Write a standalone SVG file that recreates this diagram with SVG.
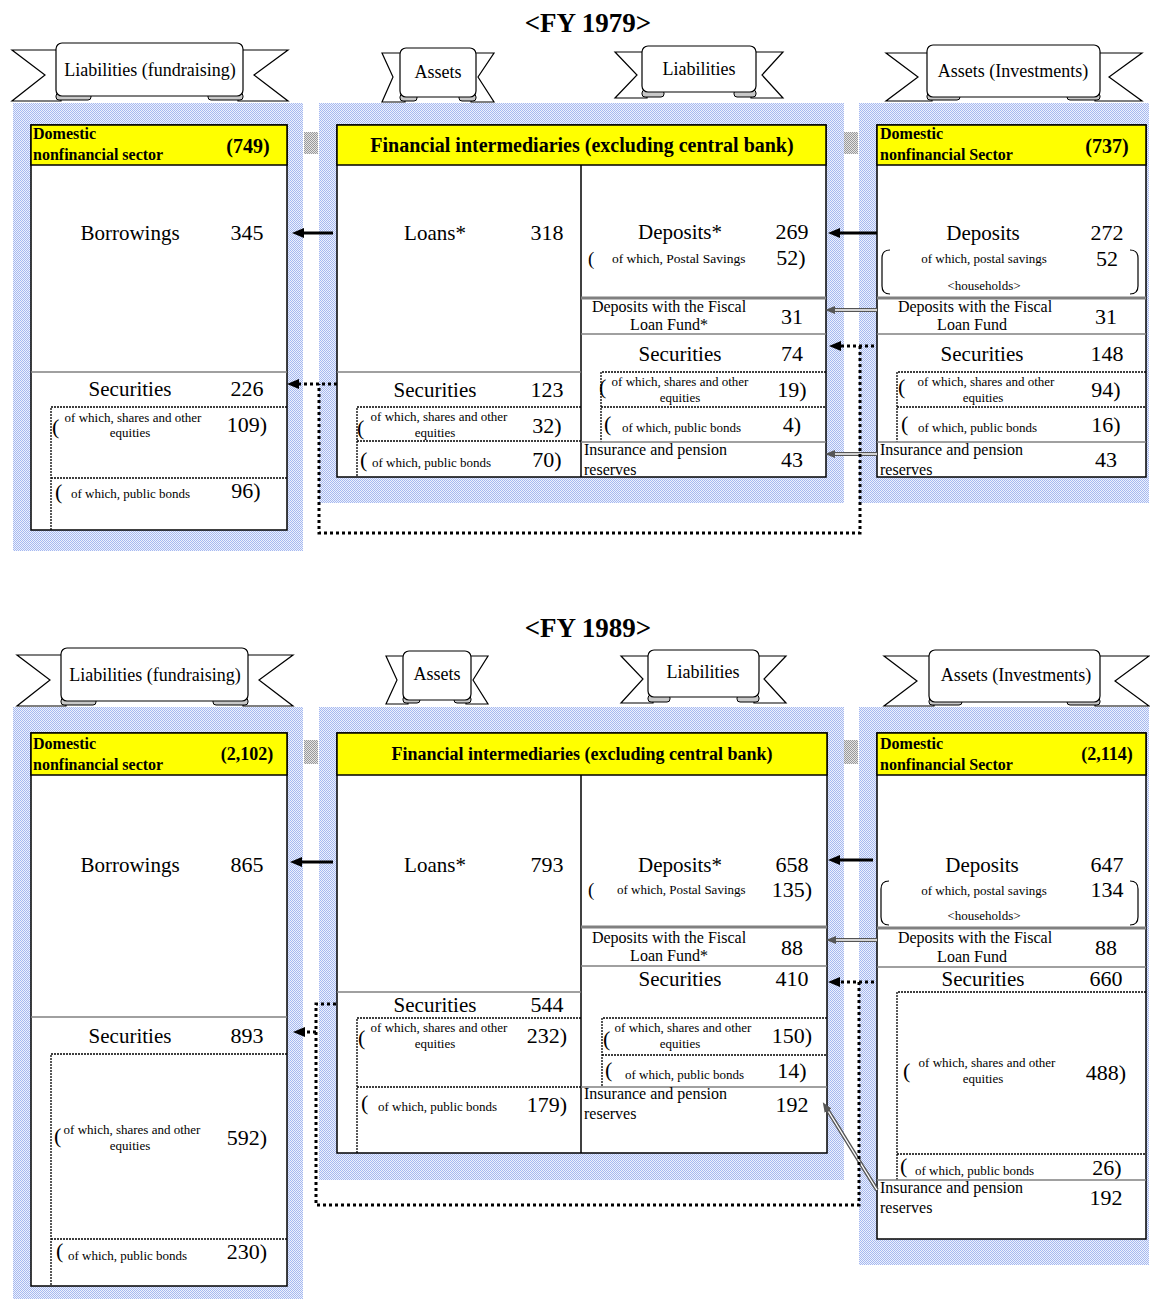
<svg xmlns="http://www.w3.org/2000/svg" width="1150" height="1299" viewBox="0 0 1150 1299">
<style>
text{font-family:"Liberation Serif","Times New Roman",serif;fill:#000}
.c{text-anchor:middle}
.L{font-size:21px}
.N{font-size:22px;text-anchor:middle}
.P{font-size:22px}
.S{font-size:13px}
.M{font-size:16px}
.B{font-size:18px;text-anchor:middle}
.H{font-weight:bold;font-size:16px}
.T{font-size:27px;font-weight:bold;text-anchor:middle}
.hatch{fill:url(#blue)}
.gblk{fill:url(#gray)}
.box{fill:#fff;stroke:#000;stroke-width:1.5}
.yel{fill:#ffff00;stroke:#000;stroke-width:1.5}
.vl{stroke:#000;stroke-width:1.5}
.gl{stroke:#808080;stroke-width:1.5}
.gt{stroke:#808080;stroke-width:3}
.dl{stroke:#000;stroke-width:1.3;stroke-dasharray:2 1;fill:none}
.br{stroke:#000;stroke-width:1.2;fill:none}
.wing{fill:#fff;stroke:#000;stroke-width:1.2}
.curl{fill:#c8c8c8;stroke:#000;stroke-width:1}
.bbox{fill:#fff;stroke:#000;stroke-width:1.2}
.arr{stroke:#000;stroke-width:3;fill:none;marker-end:url(#ah)}
.dot{stroke:#000;stroke-width:3;stroke-dasharray:3 3;fill:none}
.dota{stroke:#000;stroke-width:3;stroke-dasharray:3 3;fill:none;marker-end:url(#ah)}
.dbl{stroke:#555;stroke-width:4;fill:none;marker-end:url(#ag)}
.dbli{stroke:#fff;stroke-width:1.4;fill:none}
</style>
<defs>
<pattern id="blue" width="2" height="2" patternUnits="userSpaceOnUse">
<rect width="2" height="2" fill="#edf1fd"/>
<rect x="0" y="0" width="1" height="1" fill="#a6b9f0"/>
<rect x="1" y="1" width="1" height="1" fill="#a6b9f0"/>
</pattern>
<pattern id="gray" width="2" height="2" patternUnits="userSpaceOnUse">
<rect width="2" height="2" fill="#e4e4e4"/>
<rect x="0" y="0" width="1" height="1" fill="#999"/>
<rect x="1" y="1" width="1" height="1" fill="#999"/>
</pattern>
<marker id="ah" markerWidth="12" markerHeight="10" refX="3" refY="5" orient="auto" markerUnits="userSpaceOnUse">
<path d="M0,0 L12,5 L0,10 z" fill="#000"/>
</marker>
<marker id="ag" markerWidth="10" markerHeight="8" refX="2" refY="4" orient="auto" markerUnits="userSpaceOnUse">
<path d="M0,0 L10,4 L0,8 z" fill="#555"/>
</marker>
</defs>
<rect width="1150" height="1299" fill="#fff"/>

<!-- ================= FY 1979 ================= -->
<text class="T" x="588" y="32">&lt;FY 1979&gt;</text>

<g id="banner79-liab-fund">
<path class="wing" d="M61 50 L12 50 L45 75 L12 101 L61 101 Z"/>
<path class="wing" d="M238 50 L288 50 L254 75 L288 101 L238 101 Z"/>
<rect class="curl" x="56" y="93" width="35" height="7" rx="3"/>
<rect class="curl" x="208" y="93" width="35" height="7" rx="3"/>
<rect class="bbox" x="56" y="43" width="187" height="53" rx="6"/>
<text class="B" x="150" y="76">Liabilities (fundraising)</text>
</g>
<g id="banner79-assets">
<path class="wing" d="M405 53 L382 53 L393 77 L382 102 L405 102 Z"/>
<path class="wing" d="M471 53 L494 53 L478 77 L494 102 L471 102 Z"/>
<rect class="curl" x="400" y="94" width="17" height="7" rx="3"/>
<rect class="curl" x="459" y="94" width="17" height="7" rx="3"/>
<rect class="bbox" x="400" y="48" width="76" height="49" rx="6"/>
<text class="B" x="438" y="78">Assets</text>
</g>
<g id="banner79-liab">
<path class="wing" d="M647 52 L615 52 L637 75 L615 98 L647 98 Z"/>
<path class="wing" d="M751 52 L783 52 L762 75 L783 98 L751 98 Z"/>
<rect class="curl" x="642" y="90" width="22" height="7" rx="3"/>
<rect class="curl" x="734" y="90" width="22" height="7" rx="3"/>
<rect class="bbox" x="642" y="46" width="114" height="46" rx="6"/>
<text class="B" x="699" y="75">Liabilities</text>
</g>
<g id="banner79-assets-inv">
<path class="wing" d="M932 53 L886 53 L918 77 L886 101 L932 101 Z"/>
<path class="wing" d="M1095 53 L1142 53 L1109 77 L1142 101 L1095 101 Z"/>
<rect class="curl" x="927" y="93" width="33" height="7" rx="3"/>
<rect class="curl" x="1067" y="93" width="33" height="7" rx="3"/>
<rect class="bbox" x="927" y="45" width="173" height="52" rx="6"/>
<text class="B" x="1013" y="77">Assets (Investments)</text>
</g>

<g id="n79-left">
<rect class="hatch" x="13" y="103" width="290" height="448"/>
<rect class="box" x="31" y="125" width="256" height="405"/>
<rect class="yel" x="31" y="125" width="256" height="40"/>
<text class="H" x="33" y="139">Domestic</text>
<text class="H" x="33" y="160">nonfinancial sector</text>
<text class="c" x="248" y="153" style="font-weight:bold;font-size:20px">(749)</text>
<text class="L c" x="130" y="240">Borrowings</text>
<text class="N" x="247" y="240">345</text>
<line class="gl" x1="31" y1="372" x2="287" y2="372"/>
<text class="L c" x="130" y="396">Securities</text>
<text class="N" x="247" y="396">226</text>
<path class="dl" d="M287 407 H51 V530 M51 478 H287"/>
<text class="P" x="52" y="434">(</text>
<text class="S c" x="133" y="422">of which, shares and other</text>
<text class="S c" x="130" y="437">equities</text>
<text class="N" x="247" y="432">109)</text>
<text class="P" x="55" y="499">(</text>
<text class="S" x="71" y="498">of which, public bonds</text>
<text class="N" x="246" y="498">96)</text>
</g>

<g id="n79-mid">
<rect class="hatch" x="319" y="103" width="525" height="400"/>
<rect class="box" x="337" y="125" width="489" height="352"/>
<rect class="yel" x="337" y="125" width="489" height="40"/>
<text class="c" x="582" y="152" style="font-weight:bold;font-size:20px">Financial intermediaries (excluding central bank)</text>
<line class="vl" x1="581" y1="165" x2="581" y2="477"/>
<text class="L c" x="435" y="240">Loans*</text>
<text class="N" x="547" y="240">318</text>
<line class="gl" x1="337" y1="372" x2="581" y2="372"/>
<text class="L c" x="435" y="397">Securities</text>
<text class="N" x="547" y="397">123</text>
<path class="dl" d="M581 407 H357 V477 M357 441 H581"/>
<text class="P" x="357" y="435">(</text>
<text class="S c" x="439" y="421">of which, shares and other</text>
<text class="S c" x="435" y="437">equities</text>
<text class="N" x="547" y="433">32)</text>
<text class="P" x="360" y="467">(</text>
<text class="S" x="372" y="467">of which, public bonds</text>
<text class="N" x="547" y="467">70)</text>
<text class="L c" x="680" y="239">Deposits*</text>
<text class="N" x="792" y="239">269</text>
<text x="588" y="265" style="font-size:19px">(</text>
<text x="612" y="263" style="font-size:13.5px">of which, Postal Savings</text>
<text class="N" x="791" y="265">52)</text>
<line class="gt" x1="581" y1="298" x2="826" y2="298"/>
<text class="M c" x="669" y="312">Deposits with the Fiscal</text>
<text class="M c" x="669" y="330">Loan Fund*</text>
<text class="N" x="792" y="324">31</text>
<line class="gl" x1="581" y1="334" x2="826" y2="334"/>
<text class="L c" x="680" y="361">Securities</text>
<text class="N" x="792" y="361">74</text>
<path class="dl" d="M826 372 H601 V442 M601 407 H826"/>
<text class="P" x="599" y="394">(</text>
<text class="S c" x="680" y="386">of which, shares and other</text>
<text class="S c" x="680" y="402">equities</text>
<text class="N" x="792" y="397">19)</text>
<text class="P" x="604" y="431">(</text>
<text class="S" x="622" y="432">of which, public bonds</text>
<text class="N" x="792" y="432">4)</text>
<line class="gl" x1="581" y1="442" x2="826" y2="442"/>
<text class="M" x="584" y="455">Insurance and pension</text>
<text class="M" x="584" y="475">reserves</text>
<text class="N" x="792" y="467">43</text>
</g>

<g id="n79-right">
<rect class="hatch" x="859" y="103" width="290" height="400"/>
<rect class="box" x="877" y="125" width="269" height="352"/>
<rect class="yel" x="877" y="125" width="269" height="40"/>
<text class="H" x="880" y="139">Domestic</text>
<text class="H" x="880" y="160">nonfinancial Sector</text>
<text class="c" x="1107" y="153" style="font-weight:bold;font-size:20px">(737)</text>
<text class="L c" x="983" y="240">Deposits</text>
<text class="N" x="1107" y="240">272</text>
<path class="br" d="M890 250 Q882 250 882 258 V286 Q882 294 890 294 M1130 250 Q1138 250 1138 258 V286 Q1138 294 1130 294"/>
<text class="S c" x="984" y="263">of which, postal savings</text>
<text class="N" x="1107" y="266">52</text>
<text class="S c" x="984" y="290">&lt;households&gt;</text>
<line class="gt" x1="877" y1="298" x2="1146" y2="298"/>
<text class="M c" x="975" y="312">Deposits with the Fiscal</text>
<text class="M c" x="972" y="330">Loan Fund</text>
<text class="N" x="1106" y="324">31</text>
<line class="gl" x1="877" y1="334" x2="1146" y2="334"/>
<text class="L c" x="982" y="361">Securities</text>
<text class="N" x="1107" y="361">148</text>
<path class="dl" d="M1146 372 H897 V442 M897 407 H1146"/>
<text class="P" x="898" y="394">(</text>
<text class="S c" x="986" y="386">of which, shares and other</text>
<text class="S c" x="983" y="402">equities</text>
<text class="N" x="1106" y="397">94)</text>
<text class="P" x="901" y="431">(</text>
<text class="S" x="918" y="432">of which, public bonds</text>
<text class="N" x="1106" y="432">16)</text>
<line class="gl" x1="877" y1="442" x2="1146" y2="442"/>
<text class="M" x="880" y="455">Insurance and pension</text>
<text class="M" x="880" y="475">reserves</text>
<text class="N" x="1106" y="467">43</text>
</g>

<!-- ================= FY 1989 ================= -->
<text class="T" x="588" y="637">&lt;FY 1989&gt;</text>

<g id="banner89-liab-fund">
<path class="wing" d="M66 655 L17 655 L50 680 L17 706 L66 706 Z"/>
<path class="wing" d="M243 655 L293 655 L259 680 L293 706 L243 706 Z"/>
<rect class="curl" x="61" y="698" width="35" height="7" rx="3"/>
<rect class="curl" x="213" y="698" width="35" height="7" rx="3"/>
<rect class="bbox" x="61" y="648" width="187" height="53" rx="6"/>
<text class="B" x="155" y="681">Liabilities (fundraising)</text>
</g>
<g id="banner89-assets">
<path class="wing" d="M408 656 L386 656 L397 680 L386 704 L408 704 Z"/>
<path class="wing" d="M466 656 L488 656 L473 680 L488 704 L466 704 Z"/>
<rect class="curl" x="403" y="696" width="17" height="7" rx="3"/>
<rect class="curl" x="454" y="696" width="17" height="7" rx="3"/>
<rect class="bbox" x="403" y="651" width="68" height="49" rx="6"/>
<text class="B" x="437" y="680">Assets</text>
</g>
<g id="banner89-liab">
<path class="wing" d="M653 656 L621 656 L643 679 L621 703 L653 703 Z"/>
<path class="wing" d="M754 656 L786 656 L764 679 L786 703 L754 703 Z"/>
<rect class="curl" x="648" y="695" width="22" height="7" rx="3"/>
<rect class="curl" x="737" y="695" width="22" height="7" rx="3"/>
<rect class="bbox" x="648" y="650" width="111" height="47" rx="6"/>
<text class="B" x="703" y="678">Liabilities</text>
</g>
<g id="banner89-assets-inv">
<path class="wing" d="M934 656 L884 656 L917 681 L884 706 L934 706 Z"/>
<path class="wing" d="M1095 656 L1149 656 L1115 681 L1149 706 L1095 706 Z"/>
<rect class="curl" x="929" y="698" width="33" height="7" rx="3"/>
<rect class="curl" x="1067" y="698" width="33" height="7" rx="3"/>
<rect class="bbox" x="929" y="650" width="171" height="52" rx="6"/>
<text class="B" x="1016" y="681">Assets (Investments)</text>
</g>

<g id="n89-left">
<rect class="hatch" x="13" y="707" width="290" height="592"/>
<rect class="box" x="31" y="733" width="256" height="553"/>
<rect class="yel" x="31" y="733" width="256" height="42"/>
<text class="H" x="33" y="749">Domestic</text>
<text class="H" x="33" y="770">nonfinancial sector</text>
<text class="c" x="247" y="760" style="font-weight:bold;font-size:18px">(2,102)</text>
<text class="L c" x="130" y="872">Borrowings</text>
<text class="N" x="247" y="872">865</text>
<line class="gl" x1="31" y1="1017" x2="287" y2="1017"/>
<text class="L c" x="130" y="1043">Securities</text>
<text class="N" x="247" y="1043">893</text>
<path class="dl" d="M287 1054 H51 V1286 M51 1239 H287"/>
<text class="P" x="54" y="1143">(</text>
<text class="S c" x="132" y="1134">of which, shares and other</text>
<text class="S c" x="130" y="1150">equities</text>
<text class="N" x="247" y="1145">592)</text>
<text class="P" x="56" y="1258">(</text>
<text class="S" x="68" y="1260">of which, public bonds</text>
<text class="N" x="247" y="1259">230)</text>
</g>

<g id="n89-mid">
<rect class="hatch" x="319" y="707" width="525" height="473"/>
<rect class="box" x="337" y="733" width="490" height="420"/>
<rect class="yel" x="337" y="733" width="490" height="42"/>
<text class="c" x="582" y="760" style="font-weight:bold;font-size:18px">Financial intermediaries (excluding central bank)</text>
<line class="vl" x1="581" y1="775" x2="581" y2="1153"/>
<text class="L c" x="435" y="872">Loans*</text>
<text class="N" x="547" y="872">793</text>
<line class="gl" x1="337" y1="992" x2="581" y2="992"/>
<text class="L c" x="435" y="1012">Securities</text>
<text class="N" x="547" y="1012">544</text>
<path class="dl" d="M581 1018 H357 V1153 M357 1087 H581"/>
<text class="P" x="358" y="1045">(</text>
<text class="S c" x="439" y="1032">of which, shares and other</text>
<text class="S c" x="435" y="1048">equities</text>
<text class="N" x="547" y="1043">232)</text>
<text class="P" x="361" y="1110">(</text>
<text class="S" x="378" y="1111">of which, public bonds</text>
<text class="N" x="547" y="1112">179)</text>
<text class="L c" x="680" y="872">Deposits*</text>
<text class="N" x="792" y="872">658</text>
<text x="588" y="896" style="font-size:19px">(</text>
<text class="S" x="617" y="894">of which, Postal Savings</text>
<text class="N" x="792" y="897">135)</text>
<line class="gt" x1="581" y1="927" x2="827" y2="927"/>
<text class="M c" x="669" y="943">Deposits with the Fiscal</text>
<text class="M c" x="669" y="961">Loan Fund*</text>
<text class="N" x="792" y="955">88</text>
<line class="gl" x1="581" y1="966" x2="827" y2="966"/>
<text class="L c" x="680" y="986">Securities</text>
<text class="N" x="792" y="986">410</text>
<path class="dl" d="M827 1018 H602 V1087 M602 1055 H827"/>
<text class="P" x="603" y="1046">(</text>
<text class="S c" x="683" y="1032">of which, shares and other</text>
<text class="S c" x="680" y="1048">equities</text>
<text class="N" x="792" y="1043">150)</text>
<text class="P" x="605" y="1077">(</text>
<text class="S" x="625" y="1079">of which, public bonds</text>
<text class="N" x="792" y="1078">14)</text>
<line class="gl" x1="581" y1="1087" x2="827" y2="1087"/>
<text class="M" x="584" y="1099">Insurance and pension</text>
<text class="M" x="584" y="1119">reserves</text>
<text class="N" x="792" y="1112">192</text>
</g>

<g id="n89-right">
<rect class="hatch" x="859" y="707" width="290" height="558"/>
<rect class="box" x="877" y="733" width="269" height="506"/>
<rect class="yel" x="877" y="733" width="269" height="42"/>
<text class="H" x="880" y="749">Domestic</text>
<text class="H" x="880" y="770">nonfinancial Sector</text>
<text class="c" x="1107" y="760" style="font-weight:bold;font-size:18px">(2,114)</text>
<text class="L c" x="982" y="872">Deposits</text>
<text class="N" x="1107" y="872">647</text>
<path class="br" d="M889 881 Q881 881 881 889 V917 Q881 925 889 925 M1130 881 Q1138 881 1138 889 V917 Q1138 925 1130 925"/>
<text class="S c" x="984" y="895">of which, postal savings</text>
<text class="N" x="1107" y="897">134</text>
<text class="S c" x="984" y="920">&lt;households&gt;</text>
<line class="gt" x1="877" y1="928" x2="1146" y2="928"/>
<text class="M c" x="975" y="943">Deposits with the Fiscal</text>
<text class="M c" x="972" y="962">Loan Fund</text>
<text class="N" x="1106" y="955">88</text>
<line class="gl" x1="877" y1="967" x2="1146" y2="967"/>
<text class="L c" x="983" y="986">Securities</text>
<text class="N" x="1106" y="986">660</text>
<path class="dl" d="M1146 992 H897 V1180 M897 1154 H1146"/>
<text class="P" x="903" y="1078">(</text>
<text class="S c" x="987" y="1067">of which, shares and other</text>
<text class="S c" x="983" y="1083">equities</text>
<text class="N" x="1106" y="1080">488)</text>
<text class="P" x="900" y="1173">(</text>
<text class="S" x="915" y="1175">of which, public bonds</text>
<text class="N" x="1107" y="1175">26)</text>
<line class="gl" x1="877" y1="1180" x2="1146" y2="1180"/>
<text class="M" x="880" y="1193">Insurance and pension</text>
<text class="M" x="880" y="1213">reserves</text>
<text class="N" x="1106" y="1205">192</text>
</g>

<g id="connectors">
<rect class="gblk" x="304" y="132" width="14" height="22"/>
<rect class="gblk" x="844" y="132" width="14" height="22"/>
<rect class="gblk" x="304" y="740" width="14" height="24"/>
<rect class="gblk" x="844" y="740" width="14" height="24"/>
<line class="arr" x1="333" y1="233" x2="301" y2="233"/>
<line class="arr" x1="877" y1="233" x2="837" y2="233"/>
<line class="dbl" x1="877" y1="310" x2="833" y2="310"/>
<line class="dbli" x1="877" y1="310" x2="835" y2="310"/>
<line class="dbl" x1="877" y1="454" x2="833" y2="454"/>
<line class="dbli" x1="877" y1="454" x2="835" y2="454"/>
<line class="dota" x1="874" y1="346" x2="838" y2="346"/>
<path class="dot" d="M860 346 V533 H319 V384"/>
<line class="dota" x1="337" y1="384" x2="296" y2="384"/>
<line class="arr" x1="333" y1="862" x2="299" y2="862"/>
<line class="arr" x1="873" y1="860" x2="837" y2="860"/>
<line class="dbl" x1="877" y1="940" x2="834" y2="940"/>
<line class="dbli" x1="877" y1="940" x2="836" y2="940"/>
<line class="dbl" x1="877" y1="1190" x2="827" y2="1109"/>
<line class="dbli" x1="877" y1="1190" x2="828.5" y2="1111.5"/>
<line class="dota" x1="874" y1="982" x2="837" y2="982"/>
<path class="dot" d="M859 982 V1205 H316 V1004 H338"/>
<line class="dota" x1="316" y1="1032" x2="302" y2="1032"/>
</g>
</svg>
